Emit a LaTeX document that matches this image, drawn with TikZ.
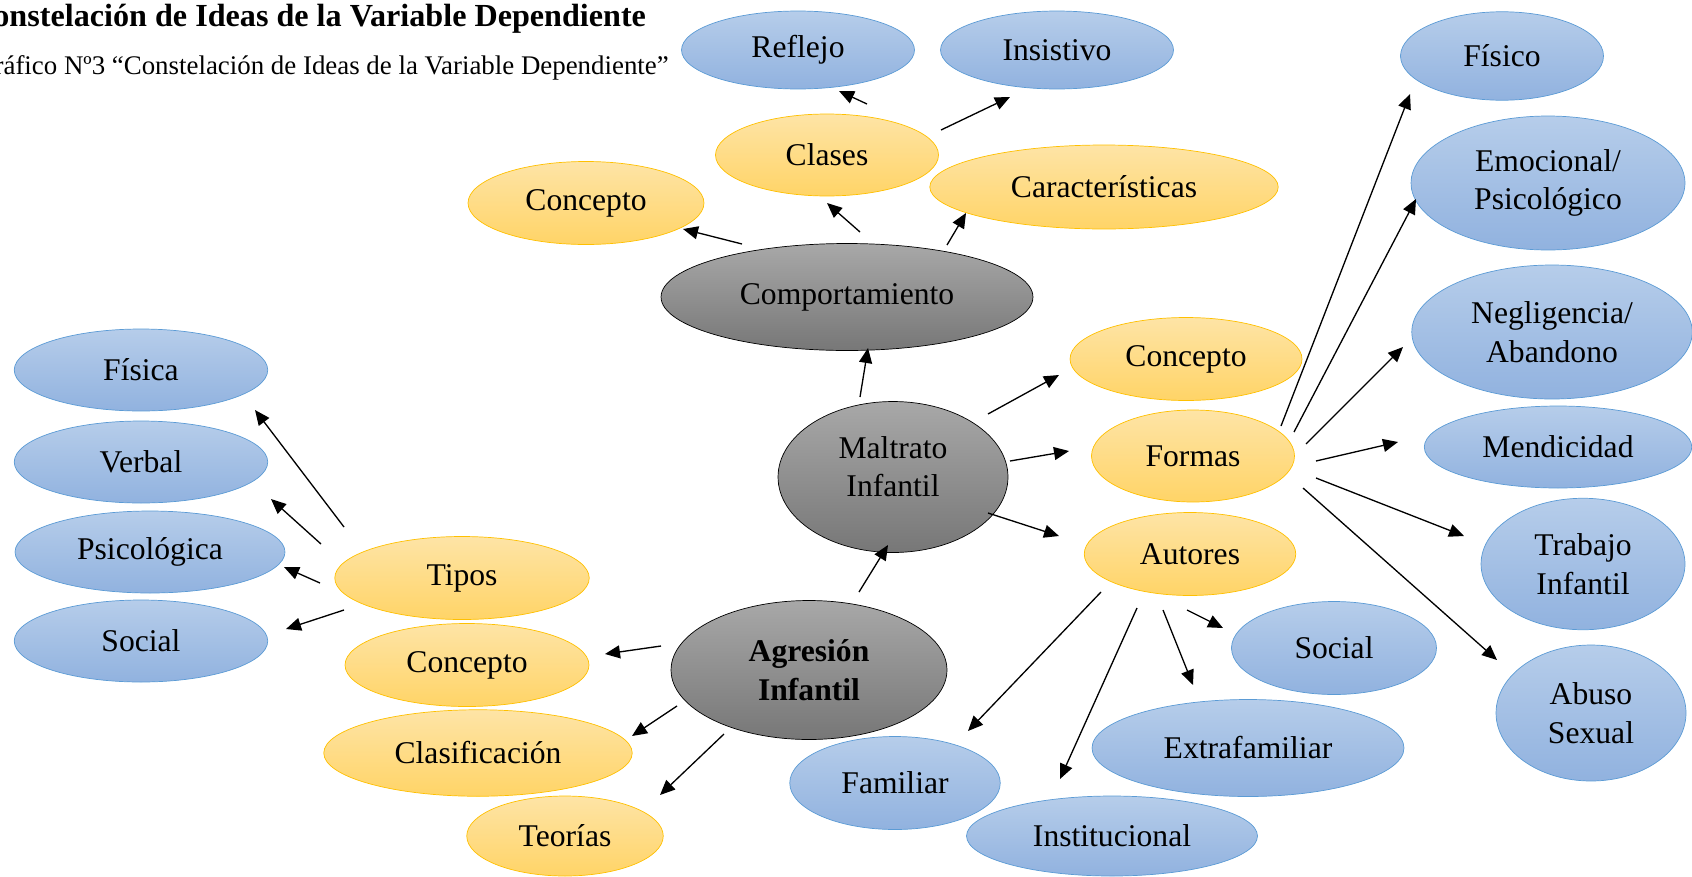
\documentclass[tikz,border=0pt]{standalone}
\usepackage{fontspec}
\setmainfont{Liberation Serif}
\usetikzlibrary{shapes.geometric,arrows.meta}
\definecolor{azulborde}{HTML}{5B9BD5}
\definecolor{azularriba}{HTML}{B6CDEA}
\definecolor{azulabajo}{HTML}{91B2DF}
\definecolor{naranjaborde}{HTML}{FFC000}
\definecolor{naranjaarriba}{HTML}{FEE4A6}
\definecolor{naranjaabajo}{HTML}{FFD467}
\definecolor{grisarriba}{HTML}{A8A8A8}
\definecolor{grisabajo}{HTML}{777777}
\begin{document}
\begin{tikzpicture}[x=0.02cm, y=-0.02cm,
  idea/.style={ellipse, inner sep=0pt, outer sep=0pt, align=center,
    font=\fontsize{18}{22}\selectfont},
  azul/.style={idea, draw=azulborde, top color=azularriba, bottom color=azulabajo},
  naranja/.style={idea, draw=naranjaborde, top color=naranjaarriba, bottom color=naranjaabajo},
  gris/.style={idea, draw=black, top color=grisarriba, bottom color=grisabajo},
  arr/.style={-{Triangle[length=0.3cm,width=0.26cm]}, line width=0.75pt}]
\useasboundingbox (0,0) rectangle (1692,876);

\node[anchor=base west, font=\fontsize{18.3}{22}\selectfont\bfseries] (titulo) at (-36,26)
  {Constelación de Ideas de la Variable Dependiente};
\node[anchor=base west, font=\fontsize{15.3}{18}\selectfont] (grafico) at (-31,74)
  {Gráfico Nº3 “Constelación de Ideas de la Variable Dependiente”};

% centro
\node[gris, minimum width=7.44cm, minimum height=2.14cm] (comport) at (847,297) {Comportamiento};
\node[gris, minimum width=4.6cm, minimum height=3.02cm, text depth=12pt] (maltrato) at (893,477) {Maltrato\\Infantil};
\node[gris, minimum width=5.52cm, minimum height=2.78cm, font=\fontsize{18}{22}\selectfont\bfseries]
  (agresion) at (809,670) {Agresión\\Infantil};

% comportamiento
\node[naranja, minimum width=4.46cm, minimum height=1.64cm] (clases) at (827,155) {Clases};
\node[naranja, minimum width=4.72cm, minimum height=1.66cm] (conceptoA) at (586,203) {Concepto};
\node[naranja, minimum width=6.97cm, minimum height=1.68cm] (caract) at (1104,187) {Características};
\node[azul, minimum width=4.66cm, minimum height=1.56cm] (reflejo) at (798,50) {Reflejo};
\node[azul, minimum width=4.66cm, minimum height=1.56cm] (insistivo) at (1057,50) {Insistivo};

% maltrato
\node[naranja, minimum width=4.64cm, minimum height=1.66cm] (conceptoB) at (1186,359) {Concepto};
\node[naranja, minimum width=4.06cm, minimum height=1.84cm] (formas) at (1193,456) {Formas};
\node[naranja, minimum width=4.23cm, minimum height=1.66cm] (autores) at (1190,554) {Autores};
\node[azul, minimum width=4.06cm, minimum height=1.77cm] (fisico) at (1502,56) {Físico};
\node[azul, minimum width=5.48cm, minimum height=2.68cm] (emocional) at (1548,183) {Emocional/\\Psicológico};
\node[azul, minimum width=5.61cm, minimum height=2.68cm] (neglig) at (1552,332) {Negligencia/\\Abandono};
\node[azul, minimum width=5.35cm, minimum height=1.64cm] (mendic) at (1558,447) {Mendicidad};
\node[azul, minimum width=4.08cm, minimum height=2.63cm] (trabajo) at (1583,564) {Trabajo\\Infantil};
\node[azul, minimum width=3.8cm, minimum height=2.72cm] (abuso) at (1591,713) {Abuso\\Sexual};
\node[azul, minimum width=4.1cm, minimum height=1.86cm] (socialB) at (1334,648) {Social};
\node[azul, minimum width=6.24cm, minimum height=1.94cm] (extra) at (1248,748) {Extrafamiliar};
\node[azul, minimum width=4.21cm, minimum height=1.86cm] (familiar) at (895,783) {Familiar};
\node[azul, minimum width=5.82cm, minimum height=1.6cm] (instit) at (1112,836) {Institucional};

% agresion
\node[naranja, minimum width=5.09cm, minimum height=1.66cm] (tipos) at (462,578) {Tipos};
\node[naranja, minimum width=4.88cm, minimum height=1.66cm] (conceptoC) at (467,665) {Concepto};
\node[naranja, minimum width=6.17cm, minimum height=1.73cm] (clasif) at (478,753) {Clasificación};
\node[naranja, minimum width=3.93cm, minimum height=1.6cm] (teorias) at (565,836) {Teorías};
\node[azul, minimum width=5.07cm, minimum height=1.64cm] (fisica) at (141,370) {Física};
\node[azul, minimum width=5.07cm, minimum height=1.64cm] (verbal) at (141,462) {Verbal};
\node[azul, minimum width=5.4cm, minimum height=1.64cm] (psico) at (150,552) {Psicológica};
\node[azul, minimum width=5.07cm, minimum height=1.64cm] (socialA) at (141,641) {Social};

\begin{scope}[arr]
\draw ([shift={(40,-51)}]clases.center) -- ([shift={(41,41)}]reflejo.center);
\draw ([shift={(114,-25)}]clases.center) -- ([shift={(-47,47)}]insistivo.center);
\draw ([shift={(-105,-53)}]comport.center) -- ([shift={(97,26)}]conceptoA.center);
\draw ([shift={(13,-65)}]comport.center) -- ([shift={(0,48)}]clases.center);
\draw ([shift={(100,-52)}]comport.center) -- ([shift={(-138,26)}]caract.center);
\draw ([shift={(-33,-80)}]maltrato.center) -- ([shift={(21,51)}]comport.center);
\draw ([shift={(95,-63)}]maltrato.center) -- ([shift={(-127,16)}]conceptoB.center);
\draw ([shift={(117,-16)}]maltrato.center) -- ([shift={(-124,-5)}]formas.center);
\draw ([shift={(95,36)}]maltrato.center) -- ([shift={(-131,-18)}]autores.center);
\draw ([shift={(50,-78)}]agresion.center) -- ([shift={(-5,68)}]maltrato.center);
\draw ([shift={(-148,-24)}]agresion.center) -- ([shift={(138,-11)}]conceptoC.center);
\draw ([shift={(-132,36)}]agresion.center) -- ([shift={(154,-17)}]clasif.center);
\draw ([shift={(-85,64)}]agresion.center) -- ([shift={(95,-41)}]teorias.center);
\draw ([shift={(-118,-51)}]tipos.center) -- ([shift={(114,40)}]fisica.center);
\draw ([shift={(-141,-34)}]tipos.center) -- ([shift={(130,37)}]verbal.center);
\draw ([shift={(-142,5)}]tipos.center) -- ([shift={(134,15)}]psico.center);
\draw ([shift={(-118,32)}]tipos.center) -- ([shift={(145,-12)}]socialA.center);
\draw ([shift={(88,-30)}]formas.center) -- ([shift={(-92,38)}]fisico.center);
\draw ([shift={(101,-24)}]formas.center) -- ([shift={(-132,16)}]emocional.center);
\draw ([shift={(113,-12)}]formas.center) -- ([shift={(-149,15)}]neglig.center);
\draw ([shift={(123,5)}]formas.center) -- ([shift={(-160,-5)}]mendic.center);
\draw ([shift={(123,22)}]formas.center) -- ([shift={(-119,-28)}]trabajo.center);
\draw ([shift={(110,32)}]formas.center) -- ([shift={(-94,-53)}]abuso.center);
\draw ([shift={(-89,38)}]autores.center) -- ([shift={(73,-52)}]familiar.center);
\draw ([shift={(-53,54)}]autores.center) -- ([shift={(-52,-57)}]instit.center);
\draw ([shift={(-27,56)}]autores.center) -- ([shift={(-55,-63)}]extra.center);
\draw ([shift={(-3,56)}]autores.center) -- ([shift={(-111,-20)}]socialB.center);
\end{scope}
\end{tikzpicture}
\end{document}
